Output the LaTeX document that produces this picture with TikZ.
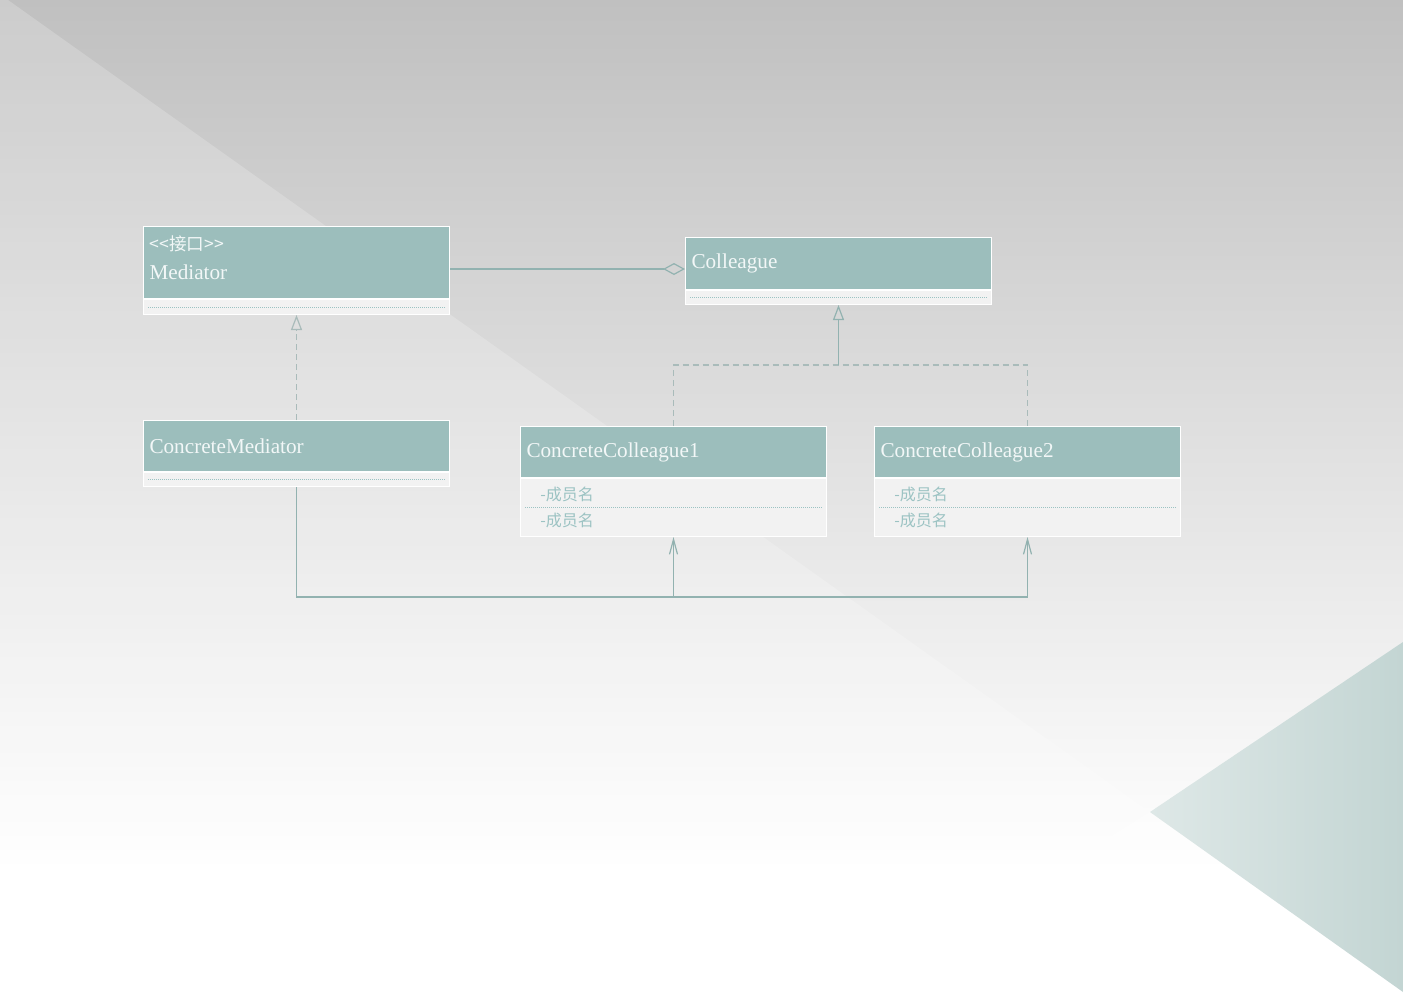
\documentclass[tikz,border=0pt]{standalone}
\usepackage{fontspec}
\setmainfont{Liberation Serif}
\newfontfamily\cjk{Noto Sans CJK SC}
\usetikzlibrary{arrows.meta}

\definecolor{bgtop}{HTML}{C0C0C0}
\definecolor{tealL}{HTML}{DEE8E7}
\definecolor{tealR}{HTML}{C3D5D3}
\definecolor{headteal}{HTML}{9CBEBC}
\definecolor{headtext}{HTML}{F2F7F7}
\definecolor{bodygray}{HTML}{F2F2F2}
\definecolor{membertext}{HTML}{9CC3C3}
\definecolor{linkteal}{HTML}{92B2B0}
\definecolor{dashgray}{HTML}{A9BBBA}

\tikzset{
  classhead/.style={draw=white, line width=0.5pt, fill=headteal, text=headtext,
    anchor=north west, minimum width=153pt, text width=147pt, inner xsep=3pt,
    inner ysep=0pt, align=left, font=\fontsize{10.6pt}{14.5pt}\selectfont},
  classbody/.style={draw=white, line width=0.5pt, fill=bodygray, anchor=north west,
    minimum width=153pt, inner sep=0pt},
  member/.style={anchor=west, text=membertext, inner sep=0pt,
    font=\cjk\fontsize{8pt}{9pt}\selectfont},
  divider/.style={draw=membertext, line width=0.4pt, dash pattern=on 0.5pt off 0.5pt},
  link/.style={draw=linkteal, line width=0.6pt},
  realize/.style={draw=dashgray, line width=0.6pt, dash pattern=on 3pt off 2pt},
  hollow/.tip={Triangle[open, length=7.5pt, width=5.5pt]},
  barb/.tip={Straight Barb[length=7.5pt, width=4pt]}
}

\begin{document}
\begin{tikzpicture}[x=0.5pt, y=-0.5pt]
\useasboundingbox (0,0) rectangle (1403,992);

% background
\shade[top color=bgtop, bottom color=white] (0,0) rectangle (1403,870);
\fill[white] (0,870) rectangle (1403,992);
\fill[white, opacity=0.2] (0,0) -- (8,0) -- (1403,992) -- (0,992) -- cycle;
\fill[white, opacity=0.4] (1150,812) -- (860,992) -- (1403,992) -- cycle;
\shade[left color=tealL, right color=tealR] (1150,812) -- (1403,642) -- (1403,992) -- cycle;

% classes
\node[classhead, minimum height=36pt] (med) at (143,226)
  {{\cjk\fontsize{8.8pt}{10pt}\selectfont <<接口>>}\\Mediator\par\vspace{5pt}};
\node[classbody, minimum height=7.5pt] (medbody) at (med.south west) {};
\draw[divider] ([xshift=2.5pt]medbody.west) -- ([xshift=-2.5pt]medbody.east);

\node[classhead, minimum height=26pt] (col) at (685,237) {Colleague};
\node[classbody, minimum height=7pt] (colbody) at (col.south west) {};
\draw[divider] ([xshift=2.5pt]colbody.west) -- ([xshift=-2.5pt]colbody.east);

\node[classhead, minimum height=25.5pt] (cmed) at (143,420) {ConcreteMediator};
\node[classbody, minimum height=7pt] (cmedbody) at (cmed.south west) {};
\draw[divider] ([xshift=2.5pt]cmedbody.west) -- ([xshift=-2.5pt]cmedbody.east);

\node[classhead, minimum height=25.5pt] (cc1) at (520,426) {ConcreteColleague1};
\node[classbody, minimum height=29pt] (cc1body) at (cc1.south west) {};
\node[member] (cc1m1) at ([xshift=10pt, yshift=6.5pt]cc1body.west) {-成员名};
\node[member] (cc1m2) at ([xshift=10pt, yshift=-6.5pt]cc1body.west) {-成员名};
\draw[divider] ([xshift=2.5pt]cc1body.west) -- ([xshift=-2.5pt]cc1body.east);

\node[classhead, minimum height=25.5pt] (cc2) at (874,426) {ConcreteColleague2};
\node[classbody, minimum height=29pt] (cc2body) at (cc2.south west) {};
\node[member] (cc2m1) at ([xshift=10pt, yshift=6.5pt]cc2body.west) {-成员名};
\node[member] (cc2m2) at ([xshift=10pt, yshift=-6.5pt]cc2body.west) {-成员名};
\draw[divider] ([xshift=2.5pt]cc2body.west) -- ([xshift=-2.5pt]cc2body.east);

% relations
\coordinate (agg) at (0,269);
\draw[link, {Diamond[open, length=11pt, width=6pt]}-] (col.west |- agg) -- (med.east |- agg);

\draw[realize, -hollow] (cmed.north) -- (medbody.south);

\coordinate (genjoin) at (colbody.south |- 0,365);
\draw[realize] (cc1.north) |- (genjoin) -| (cc2.north);
\draw[link, -hollow] (genjoin) -- (colbody.south);

\draw[link, -barb] (cmedbody.south) -- ++(0,110) -| (cc1body.south);
\draw[link, -barb] (cmedbody.south) -- ++(0,110) -| (cc2body.south);
\end{tikzpicture}
\end{document}
